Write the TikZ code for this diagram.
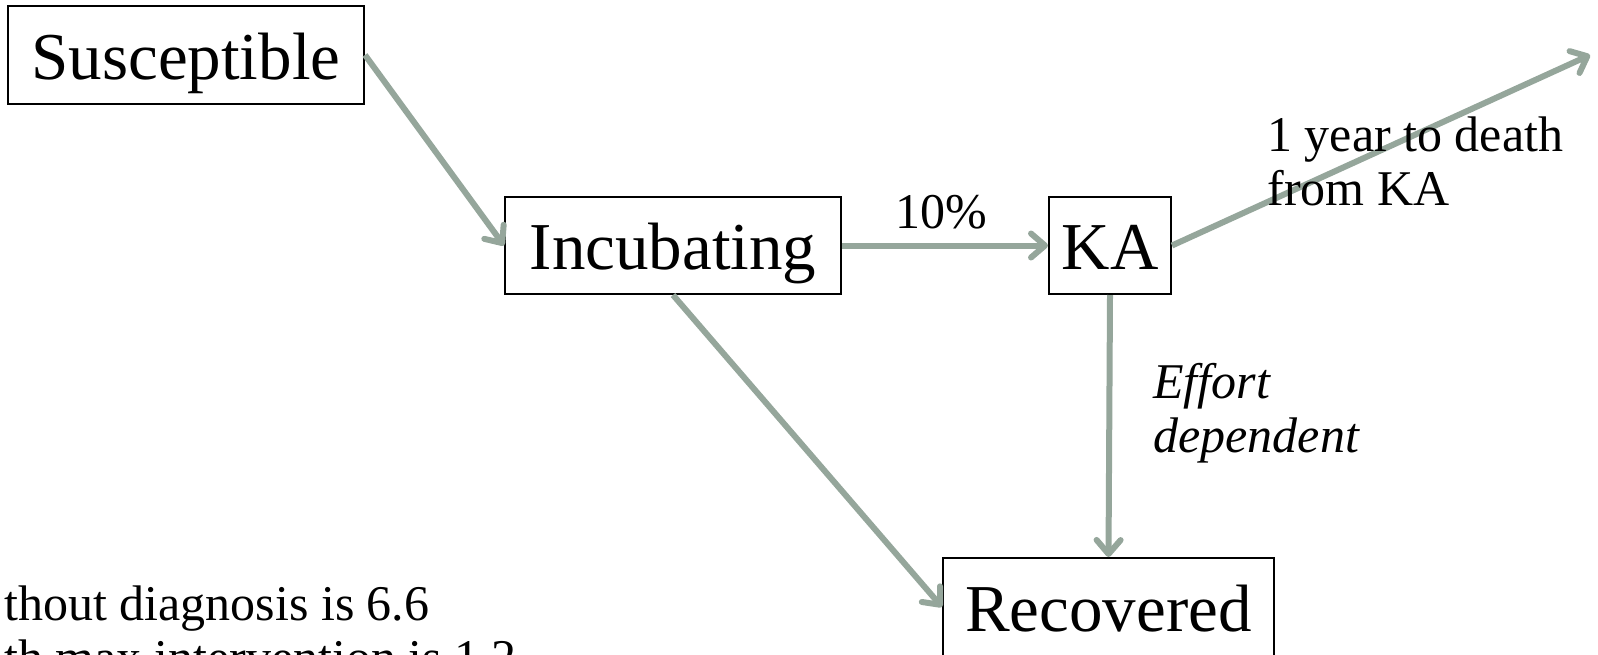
\documentclass[tikz,border=0pt]{standalone}
\usepackage{fontspec}
\setmainfont{Liberation Serif}
\usetikzlibrary{arrows.meta}
\definecolor{flowgray}{RGB}{149,166,155}
\begin{document}
\begin{tikzpicture}[x=0.5pt, y=-0.5pt,
    box/.style={draw, line width=1pt, inner sep=0pt,
        text height=24pt, text depth=0pt,
        font=\fontsize{33.5}{40}\selectfont},
    flow/.style={draw=flowgray, line width=3pt,
        -{Straight Barb[length=7pt,width=12pt,round]}},
    lbl/.style={inner sep=0pt, align=left,
        font=\fontsize{25}{27}\selectfont}]
    \useasboundingbox (0, 0) rectangle (1598, 654);

    \node[box, minimum width=178pt, minimum height=49pt]
        (sus) at (186, 55) {Susceptible};
    \node[box, minimum width=168pt, minimum height=48.5pt]
        (inc) at (673, 245.5) {Incubating};
    \node[box, minimum width=61pt, minimum height=48.5pt]
        (ka) at (1110, 245.5) {KA};
    \node[box, minimum width=165.5pt, minimum height=49pt]
        (rec) at (1108.5, 607) {Recovered};
    \coordinate (death) at (1590, 55);

    \draw[flow] (sus.east) -- (inc.west);
    \draw[flow] (inc.east) -- (ka.west);
    \draw[flow] (ka.east) -- (death);
    \draw[flow] (ka.south) -- (rec.north);
    \draw[flow] (inc.south) -- (rec.west);

    \node[lbl, anchor=base] (pct) at (941, 228) {10\%};
    \node[lbl, anchor=north west] (dth) at (1267, 116)
        {1 year to death\\from KA};
    \node[lbl, anchor=north west, font=\fontsize{25}{27}\selectfont\itshape]
        (eff) at (1153, 363) {Effort\\dependent};
    \node[lbl, anchor=north west] (note) at (4, 585)
        {thout diagnosis is 6.6\\th max intervention is 1.2};
\end{tikzpicture}
\end{document}
